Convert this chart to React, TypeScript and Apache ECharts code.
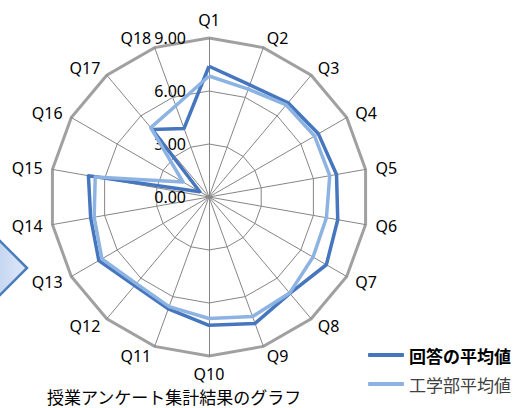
import React, { useEffect, useRef } from "react";
import * as echarts from "echarts";

const categories = ["Q1","Q2","Q3","Q4","Q5","Q6","Q7","Q8","Q9","Q10","Q11","Q12","Q13","Q14","Q15","Q16","Q17","Q18"];
const answerAvg = [7.4, 6.75, 6.96, 7.15, 7.33, 7.4, 7.67, 7.12, 7.62, 7.26, 6.74, 6.55, 7.2, 6.8, 6.93, 0.6, 4.99, 4.13];
const facultyAvg = [6.85, 6.5, 6.8, 6.9, 6.94, 6.75, 6.8, 7.1, 7.2, 6.88, 6.6, 6.4, 7.0, 6.6, 6.54, 1.7, 5.13, 5.5];
const seriesNames = ["回答の平均値", "工学部平均値"];
const axisMin = 0;
const axisMax = 9;
const splitCount = 3;
const titleText = "授業アンケート集計結果のグラフ";

// ECharts radar runs counter-clockwise; reorder so Q1..Q18 run clockwise from the top.
const clockwiseOrder = categories.map((_, i) => (i === 0 ? 0 : categories.length - i));
const reorder = <T,>(arr: T[]) => clockwiseOrder.map((k) => arr[k]);

export default function App() {
  const ref = useRef<HTMLDivElement>(null);
  useEffect(() => {
    if (!ref.current) return;
    const chart = echarts.init(ref.current, null, { renderer: "svg" });
    const latin = "Noto Sans";
    const cjk = "Noto Sans CJK JP";
    const indicator = reorder(categories).map((c, i) =>
      i === 0
        ? { name: c, min: axisMin, max: axisMax, axisLabel: { show: true } }
        : { name: c, min: axisMin, max: axisMax }
    );
    const option: any = {
      animation: false,
      backgroundColor: "#ffffff",
      title: {
        text: titleText,
        left: 47,
        top: 388,
        padding: 0,
        textStyle: { fontFamily: cjk, fontSize: 17, lineHeight: 17, fontWeight: "normal", color: "#000" },
      },
      legend: {
        orient: "vertical",
        left: 368,
        top: 345,
        itemWidth: 36,
        itemHeight: 4,
        itemGap: 9,
        itemTextGap: 4,
        icon: "roundRect",
        padding: 0,
        textStyle: { fontFamily: cjk, fontSize: 17, lineHeight: 20 },
        data: [
          { name: seriesNames[0], textStyle: { color: "#000", fontWeight: "bold" } },
          { name: seriesNames[1], textStyle: { color: "#404040", fontWeight: "normal" } },
        ],
      },
      radar: [
        {
          center: [209, 197],
          radius: 159,
          startAngle: 90,
          splitNumber: splitCount,
          shape: "polygon",
          indicator,
          axisName: { color: "#000", fontFamily: latin, fontSize: 16 },
          nameGap: 10,
          axisLine: { lineStyle: { color: "#868686", width: 1 } },
          splitLine: { lineStyle: { color: "#868686", width: 1 } },
          splitArea: { show: false },
          axisTick: { show: false },
          axisLabel: {
            show: false,
            color: "#000",
            fontFamily: latin,
            fontSize: 16,
            margin: 23,
            formatter: (v: number) => Number(v).toFixed(2),
          },
        },
        {
          center: [209, 197],
          radius: 159,
          startAngle: 90,
          splitNumber: 1,
          shape: "polygon",
          indicator: categories.map(() => ({ name: "", min: axisMin, max: axisMax })),
          axisName: { show: false },
          axisLine: { show: false },
          splitLine: { lineStyle: { color: "#a0a0a0", width: 3 } },
          splitArea: { show: false },
          axisTick: { show: false },
          axisLabel: { show: false },
        },
      ],
      graphic: [
        {
          type: "polygon",
          shape: { points: [[27, 268], [-3, 238], [-33, 268], [-3, 298]] },
          style: {
            fill: new echarts.graphic.LinearGradient(0, 0, 1, 0, [
              { offset: 0, color: "#a9c3eb" },
              { offset: 1, color: "#dfe8f8" },
            ]),
            stroke: "#4a7ebb",
            lineWidth: 2.5,
          },
        },
      ],
      series: [
        {
          type: "radar",
          radarIndex: 0,
          symbol: "none",
          color: "#4676bd",
          lineStyle: { width: 3.5, color: "#4676bd" },
          data: [{ name: seriesNames[0], value: reorder(answerAvg) }],
        },
        {
          type: "radar",
          radarIndex: 0,
          symbol: "none",
          color: "#8db3e2",
          lineStyle: { width: 3.5, color: "#8db3e2" },
          data: [{ name: seriesNames[1], value: reorder(facultyAvg) }],
        },
      ],
    };
    chart.setOption(option);
    return () => chart.dispose();
  }, []);
  return (
    <div
      ref={ref}
      style={{ position: "fixed", left: 0, top: 0, width: 520, height: 408 }}
    />
  );
}
